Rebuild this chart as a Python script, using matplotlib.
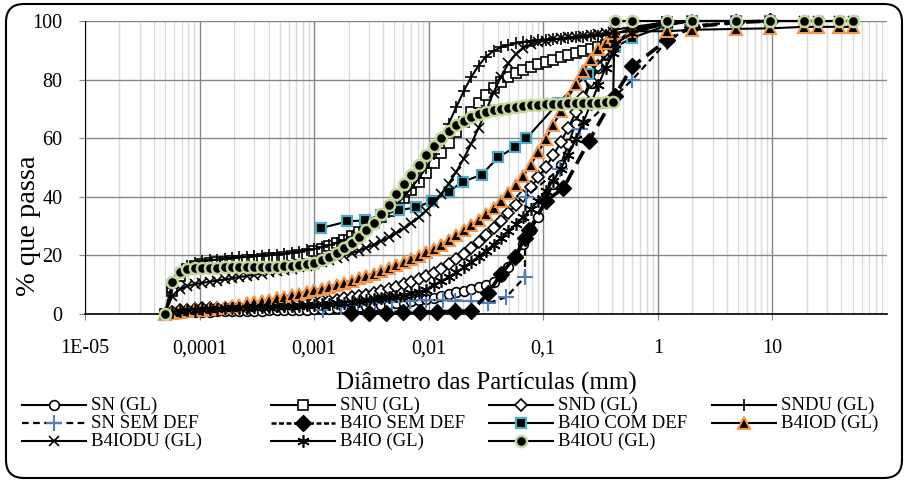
import matplotlib
matplotlib.use("Agg")
import matplotlib.pyplot as plt
from matplotlib.lines import Line2D
from matplotlib.patches import FancyBboxPatch
from matplotlib.ticker import FixedLocator, FixedFormatter, LogLocator, NullFormatter

plt.rcParams["font.family"] = ["Liberation Serif", "DejaVu Serif"]

W, H = 906, 482

# laser granulometer size classes (mm), shared by the (GL) curves
laser_mm = [
    0.0000497, 0.0000577, 0.0000670, 0.0000779, 0.0000905, 0.0001052, 0.0001223, 0.0001421,
    0.0001651, 0.0001919, 0.0002230, 0.0002591, 0.0003011, 0.0003499, 0.0004066, 0.0004725,
    0.0005490, 0.0006380, 0.0007413, 0.0008614, 0.001001, 0.001163, 0.001351, 0.001570,
    0.001825, 0.002121, 0.002464, 0.002863, 0.003327, 0.003866, 0.004493, 0.005221,
    0.006067, 0.007050, 0.008192, 0.009521, 0.01106, 0.01285, 0.01494, 0.01736,
    0.02017, 0.02344, 0.02724, 0.03166, 0.03678, 0.04274, 0.04967, 0.05772,
    0.06708, 0.07794, 0.09057, 0.1052, 0.1223, 0.1421, 0.1651, 0.1919,
    0.2230, 0.2591, 0.3011, 0.3499, 0.4066,
]
# sieve openings (mm)
sieve_mm = [0.42, 0.6, 1.2, 2.0, 4.8, 9.5, 19.0, 25.0, 38.0, 50.0]
sieve_short_mm = [0.6, 1.2, 2.0]

sn_gl = [
    0, 0.3, 0.5, 0.6, 0.7, 0.8, 0.8, 0.9, 0.9, 1.0,
    1.0, 1.0, 1.1, 1.1, 1.2, 1.2, 1.3, 1.3, 1.4, 1.5,
    1.6, 1.7, 1.8, 1.9, 2.0, 2.2, 2.4, 2.6, 2.8, 3.0,
    3.3, 3.6, 3.9, 4.3, 4.7, 5.1, 5.6, 6.2, 6.8, 7.4,
    8.0, 8.7, 9.3, 10.0, 11.0, 13.0, 16.0, 19.6, 23.8, 28.5,
    33.2, 38.5, 44.5, 51.0, 58.0, 65.0, 72.5, 79.0, 84.0, 88.5, 92.0,
]
sn_gl_tail = [96.5, 99.5, 100]

snu_gl = [
    0, 8.0, 13.0, 15.5, 16.5, 17.0, 17.3, 17.6, 17.8, 18.0,
    18.2, 18.4, 18.6, 18.8, 19.0, 19.2, 19.5, 19.8, 20.1, 20.5,
    21.5, 22.3, 23.2, 24.2, 25.3, 26.5, 27.9, 29.4, 31.1, 33.0,
    35.0, 37.2, 39.6, 42.2, 45.0, 48.0, 51.5, 55.0, 58.5, 62.0,
    65.5, 69.0, 72.0, 74.8, 77.2, 79.2, 80.8, 82.2, 83.3, 84.3,
    85.2, 86.0, 86.8, 87.6, 88.3, 89.0, 89.7, 90.4, 91.1, 91.8, 92.5,
]
snu_gl_tail = [96.0, 99.5, 100]

snd_gl = [
    0, 0.8, 1.2, 1.5, 1.7, 1.9, 2.0, 2.1, 2.2, 2.3,
    2.4, 2.5, 2.6, 2.7, 2.8, 2.9, 3.0, 3.2, 3.4, 3.6,
    4.0, 4.3, 4.6, 4.9, 5.3, 5.7, 6.1, 6.6, 7.1, 7.7,
    8.5, 9.3, 10.1, 11.0, 12.0, 13.0, 14.0, 15.5, 17.0, 18.7,
    20.5, 22.5, 24.6, 26.8, 29.2, 31.8, 34.5, 37.3, 40.2, 43.3,
    46.6, 50.2, 54.2, 58.6, 63.5, 68.8, 74.2, 79.5, 84.5, 88.6, 92.0,
]
snd_gl_tail = [97.0, 99.5, 100]

sndu_gl = [
    0, 9.0, 14.0, 16.5, 17.5, 18.0, 18.3, 18.6, 18.9, 19.1,
    19.3, 19.5, 19.7, 19.9, 20.1, 20.3, 20.6, 20.9, 21.3, 21.7,
    22.2, 22.8, 23.5, 24.3, 25.2, 26.3, 27.6, 29.1, 30.8, 32.7,
    34.9, 37.3, 40.0, 43.0, 46.3, 50.0, 54.5, 59.5, 65.0, 70.5,
    76.0, 80.8, 84.8, 87.8, 89.8, 91.0, 91.8, 92.4, 92.8, 93.1,
    93.4, 93.6, 93.8, 94.0, 94.2, 94.4, 94.6, 94.8, 95.0, 95.2, 95.4,
]
sndu_gl_tail = [97.5, 99.8, 100]

b4iod_gl = [
    0, 0.3, 0.6, 0.9, 1.2, 1.5, 1.8, 2.1, 2.4, 2.8,
    3.2, 3.6, 4.0, 4.4, 4.9, 5.4, 5.9, 6.4, 6.9, 7.5,
    8.1, 8.7, 9.3, 10.0, 10.7, 11.4, 12.2, 13.0, 13.8, 14.7,
    15.6, 16.6, 17.6, 18.7, 19.8, 21.0, 22.3, 23.7, 25.2, 26.8,
    28.5, 30.3, 32.2, 34.2, 36.3, 38.6, 41.2, 44.0, 47.2, 51.0,
    55.2, 59.8, 64.6, 69.2, 73.8, 78.4, 82.8, 87.0, 90.3, 92.6, 94.5,
]
b4iod_gl_tail = [96.0, 96.5, 96.5, 97.0, 97.3, 97.5, 98.0, 98.0, 98.0, 98.0]

b4iodu_gl = [
    0, 6.0, 8.5, 9.5, 10.2, 10.6, 11.0, 11.4, 11.8, 12.2,
    12.6, 13.0, 13.4, 13.8, 14.2, 14.6, 15.0, 15.5, 16.0, 16.5,
    17.1, 17.7, 18.4, 19.1, 19.9, 20.7, 21.6, 22.6, 23.7, 24.9,
    26.2, 27.6, 29.2, 31.0, 33.0, 35.3, 38.0, 41.0, 44.5, 48.5,
    53.0, 58.0, 63.5, 69.5, 75.5, 81.0, 85.5, 88.8, 90.8, 92.0,
    92.8, 93.3, 93.7, 94.1, 94.4, 94.7, 95.0, 95.3, 95.6, 95.9, 96.2,
]
b4iodu_gl_tail = [97.0, 98.0, 99.5, 100, 100, 100, 100, 100, 100, 100]

b4io_gl = [
    0, 0.6, 1.0, 1.3, 1.5, 1.6, 1.7, 1.8, 1.9, 2.0,
    2.1, 2.2, 2.3, 2.4, 2.5, 2.6, 2.7, 2.8, 2.9, 3.0,
    3.1, 3.3, 3.5, 3.7, 3.9, 4.1, 4.4, 4.7, 5.0, 5.3,
    5.7, 6.1, 6.5, 7.0, 7.6, 8.3, 10.0, 11.2, 12.6, 14.2,
    15.9, 17.7, 19.6, 21.6, 23.7, 25.9, 28.2, 30.6, 33.1, 35.8,
    38.7, 41.9, 45.5, 49.6, 54.3, 59.6, 65.4, 71.6, 78.0, 84.0, 89.0,
]
b4io_gl_tail = [92.0, 96.0, 99.0, 100, 100, 100, 100, 100, 100, 100]

b4iou_gl = [
    0, 10.8, 14.4, 15.3, 15.6, 15.7, 15.8, 15.8, 15.9, 15.9,
    16.0, 16.0, 16.0, 16.1, 16.1, 16.2, 16.3, 16.4, 16.6, 16.9,
    17.4, 18.3, 19.4, 20.8, 22.4, 24.2, 26.3, 28.6, 31.1, 34.0,
    37.3, 40.8, 44.2, 47.6, 51.0, 54.3, 57.4, 60.2, 62.6, 64.5,
    66.0, 67.3, 68.3, 69.0, 69.6, 70.0, 70.4, 70.7, 71.0, 71.2,
    71.4, 71.6, 71.7, 71.8, 71.9, 72.0, 72.0, 72.1, 72.1, 72.2, 72.2,
]
b4iou_gl_tail = [100, 100, 100, 100, 100, 100, 100, 100, 100, 100]

# sedimentation + sieving curves
sn_sem_def_mm = [0.0012, 0.0017, 0.0024, 0.0034, 0.0048, 0.0068, 0.0095, 0.0134, 0.0168, 0.0236,
                 0.033, 0.0475, 0.069, 0.070, 0.14, 0.21, 0.6, 1.2, 2.0, 4.8, 9.5]
sn_sem_def = [1.5, 2.5, 3.2, 3.8, 4.2, 4.5, 4.7, 4.8, 4.6, 4.4,
              3.7, 5.8, 12.6, 40.0, 49.6, 63.0, 80.0, 93.0, 98.5, 99.5, 100]

b4io_sem_def_mm = [0.0021, 0.003, 0.0042, 0.006, 0.0084, 0.0119, 0.0168, 0.0236, 0.033, 0.0425,
                   0.0567, 0.069, 0.075, 0.105, 0.15, 0.25, 0.42, 0.6, 1.2, 2.0, 4.8, 9.5]
b4io_sem_def = [0.3, 0.4, 0.5, 0.6, 0.7, 0.8, 0.9, 1.0, 7.0, 13.5,
                19.5, 26.0, 28.5, 38.5, 43.0, 59.0, 74.5, 84.5, 93.5, 98.0, 99.5, 100]

b4io_com_def_mm = [0.00115, 0.00194, 0.0028, 0.0038, 0.0055, 0.0077, 0.0106, 0.0149, 0.020, 0.0289,
                   0.0404, 0.0567, 0.071, 0.135, 0.245, 0.42, 0.6, 1.2, 2.0, 4.8, 9.5]
b4io_com_def = [29.3, 31.6, 32.0, 33.7, 35.4, 36.4, 38.4, 41.8, 45.2, 47.5,
                53.5, 56.9, 59.9, 72.0, 82.0, 91.0, 94.3, 98.5, 100, 100, 100]

x_ticks = [1e-5, 1e-4, 1e-3, 1e-2, 1e-1, 1, 10]
x_tick_labels = ["1E-05", "0,0001", "0,001", "0,01", "0,1", "1", "10"]
y_ticks = [0, 20, 40, 60, 80, 100]

TEAL = "#4bacc6"
ORANGE = "#f79646"
GREEN = "#c3d69b"
BLUE = "#4f81bd"

series = [
    ("SN (GL)", laser_mm + sieve_short_mm, sn_gl + sn_gl_tail,
     dict(ls="-", lw=1.5, marker="o", ms=7, mfc="white", mec="black", mew=1.2)),
    ("SNU (GL)", laser_mm + sieve_short_mm, snu_gl + snu_gl_tail,
     dict(ls="-", lw=1.5, marker="s", ms=7, mfc="white", mec="black", mew=1.2)),
    ("SND (GL)", laser_mm + sieve_short_mm, snd_gl + snd_gl_tail,
     dict(ls="-", lw=1.5, marker="D", ms=6.5, mfc="white", mec="black", mew=1.2)),
    ("SNDU (GL)", laser_mm + sieve_short_mm, sndu_gl + sndu_gl_tail,
     dict(ls="-", lw=1.5, marker="+", ms=9, mec="black", mew=1.2)),
    ("SN SEM DEF", sn_sem_def_mm, sn_sem_def,
     dict(ls=(0, (3, 2)), lw=1.6, marker="+", ms=12, mec=BLUE, mew=1.5)),
    ("B4IO SEM DEF", b4io_sem_def_mm, b4io_sem_def,
     dict(ls=(0, (4, 2)), lw=2.6, marker="D", ms=8, mfc="black", mec="black", mew=1)),
    ("B4IO COM DEF", b4io_com_def_mm, b4io_com_def,
     dict(ls="-", lw=1.5, marker="s", ms=7.5, mfc="black", mec=TEAL, mew=1.6)),
    ("B4IOD (GL)", laser_mm + sieve_mm, b4iod_gl + b4iod_gl_tail,
     dict(ls="-", lw=1.5, marker="^", ms=8.5, mfc="black", mec=ORANGE, mew=1.5)),
    ("B4IODU (GL)", laser_mm + sieve_mm, b4iodu_gl + b4iodu_gl_tail,
     dict(ls="-", lw=1.5, marker="x", ms=7, mec="black", mew=1.2)),
    ("B4IO (GL)", laser_mm + sieve_mm, b4io_gl + b4io_gl_tail,
     dict(ls="-", lw=1.5, marker=(6, 2, 0), ms=9, mec="black", mew=1.2)),
    ("B4IOU (GL)", laser_mm + sieve_mm, b4iou_gl + b4iou_gl_tail,
     dict(ls="-", lw=1.5, marker="o", ms=8, mfc="black", mec=GREEN, mew=1.8)),
]

fig = plt.figure(figsize=(W / 100, H / 100), dpi=100)
ax = fig.add_axes([85 / W, 1 - 314 / H, 802 / W, 293 / H])

for label, xs, ys, kw in series:
    ax.plot(xs, ys, color="black", clip_on=False, zorder=3, **kw)

ax.set_xscale("log")
ax.set_xlim(1e-5, 100)
ax.set_ylim(0, 100)

ax.xaxis.set_major_locator(FixedLocator(x_ticks))
ax.xaxis.set_major_formatter(FixedFormatter(x_tick_labels))
ax.xaxis.set_minor_locator(LogLocator(base=10, subs=range(2, 10), numticks=20))
ax.xaxis.set_minor_formatter(NullFormatter())
ax.set_yticks(y_ticks)

ax.set_axisbelow(True)
ax.grid(which="minor", axis="x", color="#d9d9d9", lw=1)
ax.grid(which="major", axis="both", color="#868686", lw=1)

for side in ("top", "right"):
    ax.spines[side].set_visible(False)
ax.spines["left"].set_color("black")
ax.spines["left"].set_linewidth(0.8)
ax.spines["bottom"].set_color("black")
ax.spines["bottom"].set_linewidth(1.2)

ax.tick_params(axis="x", which="major", length=4.3, color="#868686", pad=14, labelsize=14.5)
ax.tick_params(axis="x", which="minor", length=0)
ax.tick_params(axis="y", length=4.3, color="#868686", pad=12, labelsize=14.5)

ax.set_ylabel("% que passa", fontsize=20.5)
ax.yaxis.set_label_coords(-0.055, 0.30)
fig.text(486 / W, 1 - 383 / H, "Diâmetro das Partículas (mm)", fontsize=18,
         ha="center", va="center")

# legend, laid out row by row in four fixed columns
text_x = [91, 340, 558, 781]
row_y = [405, 423, 441]
for k, (label, xs, ys, kw) in enumerate(series):
    row, col = divmod(k, 4)
    y = 1 - row_y[row] / H
    x1 = (text_x[col] - 5) / W
    x0 = x1 - 64 / W
    line_kw = {key: v for key, v in kw.items() if key in ("ls", "lw")}
    if line_kw.get("lw", 1.5) > 2:
        line_kw["lw"] = 1.8
        line_kw["ls"] = (0, (2, 1))
    fig.add_artist(Line2D([x0, x1], [y, y], color="black", **line_kw))
    mk = {key: v for key, v in kw.items() if key not in ("ls", "lw")}
    fig.add_artist(Line2D([(x0 + x1) / 2], [y], color="black", ls="none", **mk))
    fig.text(text_x[col] / W, y, label, fontsize=13.5, ha="left", va="center")

frame = FancyBboxPatch((0.06, 0.04), 8.96, 4.74,
                       boxstyle="round,pad=0,rounding_size=0.18",
                       transform=fig.dpi_scale_trans, fill=False,
                       ec="black", lw=1.5)
fig.add_artist(frame)

fig.savefig("out.png", dpi=100)
